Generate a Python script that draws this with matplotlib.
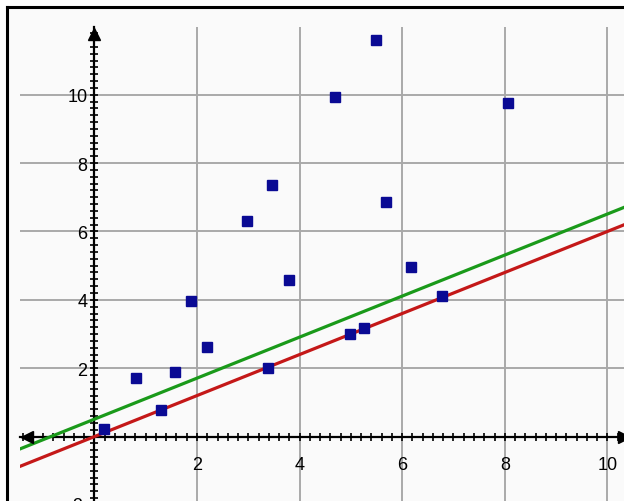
import matplotlib.pyplot as plt
from matplotlib.ticker import MultipleLocator, FuncFormatter
from matplotlib.lines import Line2D
from matplotlib.patches import Rectangle

# scatter points
x_pts = [0.19, 0.81, 1.30, 1.58, 1.88, 2.19, 2.97, 3.47, 3.79, 3.38,
         4.99, 5.26, 4.70, 5.48, 5.68, 6.18, 6.78, 8.06]
y_pts = [0.22, 1.70, 0.79, 1.90, 3.97, 2.63, 6.31, 7.36, 4.58, 2.01,
         2.99, 3.18, 9.92, 11.59, 6.87, 4.95, 4.10, 9.75]

# two fitted lines: (intercept, slope)
red_line = (0.0, 0.6)
green_line = (0.51, 0.6)

fig = plt.figure(figsize=(6.24, 5.02), dpi=100, facecolor='white')

# light panel inside the black frame
fig.add_artist(Rectangle((7/624, 0), 1, 1 - 8/502, transform=fig.transFigure,
                         facecolor='#fafafa', edgecolor='none', zorder=-5))
fig.add_artist(Line2D([7/624, 1], [1 - 8/502, 1 - 8/502], transform=fig.transFigure,
                      color='black', lw=2.2))
fig.add_artist(Line2D([7/624, 7/624], [0, 1 - 8/502], transform=fig.transFigure,
                      color='black', lw=2.2))

ax = fig.add_axes([20/624, 0, 604/624, 474/502])
ax.set_facecolor('none')
ax.set_xlim(-1.45, 10.324)
ax.set_ylim(-1.883, 11.98)

# axes through the origin
for side in ['top', 'right']:
    ax.spines[side].set_visible(False)
ax.spines['left'].set_position(('data', 0))
ax.spines['bottom'].set_position(('data', 0))
for side in ['left', 'bottom']:
    ax.spines[side].set_linewidth(1.6)
    ax.spines[side].set_zorder(2.5)

ax.xaxis.set_major_locator(MultipleLocator(2))
ax.yaxis.set_major_locator(MultipleLocator(2))
ax.xaxis.set_minor_locator(MultipleLocator(0.2))
ax.yaxis.set_minor_locator(MultipleLocator(0.2))
fmt = FuncFormatter(lambda v, p: '' if abs(v) < 1e-9 else '%d' % round(v))
ax.xaxis.set_major_formatter(fmt)
ax.yaxis.set_major_formatter(fmt)

fam = ['Liberation Sans Narrow', 'Liberation Sans', 'DejaVu Sans']
ax.tick_params(which='both', direction='inout', length=6, width=1.2, color='black')
ax.tick_params(axis='x', which='major', pad=11, labelsize=13)
ax.tick_params(axis='y', which='major', pad=2, labelsize=13)
for lab in ax.get_xticklabels() + ax.get_yticklabels():
    lab.set_family(fam)

ax.grid(True, which='major', color='#a9a9a9', lw=1.4, zorder=0)
ax.set_axisbelow(True)

# arrow heads on the axes
ax.plot(0, 0.985, '^', color='black', ms=9, transform=ax.get_xaxis_transform(), clip_on=False, zorder=5)
ax.plot(0.012, 0, '<', color='black', ms=9, transform=ax.get_yaxis_transform(), clip_on=False, zorder=5)
ax.plot(1.0, 0, '>', color='black', ms=9, transform=ax.get_yaxis_transform(), clip_on=False, zorder=5)

# partial -2 label cut off at the bottom
ax.text(-0.22, -2, '-2', ha='right', va='center', fontsize=13, family=fam, clip_on=False)

ax.axline((0, red_line[0]), slope=red_line[1], color='#c41818', lw=2.3, zorder=3)
ax.axline((0, green_line[0]), slope=green_line[1], color='#1a9a1a', lw=2.3, zorder=3)

ax.plot(x_pts, y_pts, 's', color='#0a0a94', ms=7.5, mec='#0a0a94', ls='none', zorder=4)

fig.savefig('out.png', dpi=100, facecolor=fig.get_facecolor())
